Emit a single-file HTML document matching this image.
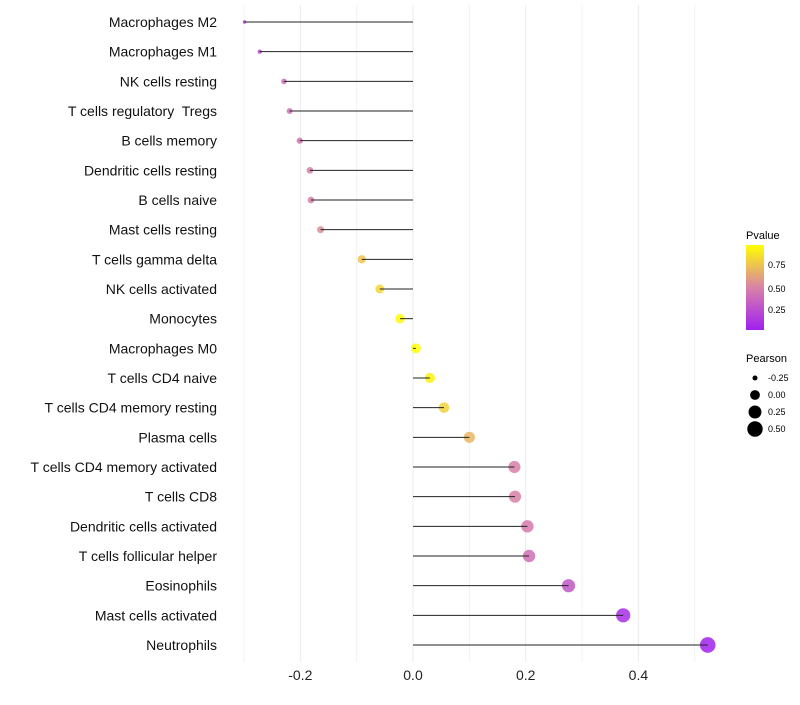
<!DOCTYPE html>
<html><head><meta charset="utf-8"><style>
body{margin:0;background:#fff;font-family:"Liberation Sans",sans-serif;}
text{white-space:pre;}
</style></head><body>
<svg id="chart" width="800" height="700" xmlns="http://www.w3.org/2000/svg">
<g id="grid"></g><g id="dots"></g><g id="marks"></g><g id="labels"></g>
<g id="legend">
<defs><linearGradient id="pg" x1="0" y1="1" x2="0" y2="0">
<stop offset="0" stop-color="#a020f0"/><stop offset="0.5" stop-color="#d882a8"/><stop offset="1" stop-color="#ffff00"/></linearGradient></defs>
<text x="746" y="239" font-size="11">Pvalue</text>
<rect x="746" y="245" width="18" height="85" fill="url(#pg)"/>
<text x="768" y="268" font-size="9">0.75</text>
<text x="768" y="292" font-size="9">0.50</text>
<text x="768" y="313" font-size="9">0.25</text>
<text x="746" y="362" font-size="11">Pearson</text>
</g>
</svg>
<script>
const categories=["Macrophages M2","Macrophages M1","NK cells resting","T cells regulatory  Tregs","B cells memory","Dendritic cells resting","B cells naive","Mast cells resting","T cells gamma delta","NK cells activated","Monocytes","Macrophages M0","T cells CD4 naive","T cells CD4 memory resting","Plasma cells","T cells CD4 memory activated","T cells CD8","Dendritic cells activated","T cells follicular helper","Eosinophils","Mast cells activated","Neutrophils"];
const pearson=[-0.299,-0.272,-0.229,-0.219,-0.201,-0.183,-0.181,-0.164,-0.091,-0.059,-0.023,0.005,0.030,0.055,0.100,0.180,0.181,0.203,0.206,0.276,0.373,0.523];
const pvalue=[0.15,0.25,0.4,0.42,0.45,0.5,0.5,0.55,0.75,0.82,0.95,0.97,0.92,0.8,0.7,0.5,0.5,0.47,0.42,0.3,0.1,0.04];
const xTicks=[-0.2,0,0.2,0.4];
const xTickLabels=["-0.2","0.0","0.2","0.4"];
const xMinor=[-0.3,-0.1,0.1,0.3,0.5];
const sizeLegend=[-0.25,0,0.25,0.5];
const sizeLegendLabels=["-0.25","0.00","0.25","0.50"];

const NS="http://www.w3.org/2000/svg";
const x=v=>413+v*563.5;
const y=i=>22+i*(623/(categories.length-1));
const r=v=>Math.max(1.5,7.8*Math.sqrt(Math.max(0,(v+0.34)/0.86)));
function lerp(a,b,t){return a.map((c,i)=>Math.round(c+(b[i]-c)*t));}
function col(p){const lo=[160,32,240],mid=[216,128,168],hi=[255,255,0];
 let t=Math.min(1,Math.max(0,(p-0.03)/0.94));
 const c=t<0.5?lerp(lo,mid,t/0.5):lerp(mid,hi,(t-0.5)/0.5);return `rgb(${c})`;}
function mk(tag,attrs,parent){const e=document.createElementNS(NS,tag);for(const k in attrs)e.setAttribute(k,attrs[k]);parent.appendChild(e);return e;}
const grid=document.getElementById('grid'),dots=document.getElementById('dots'),marks=document.getElementById('marks'),labels=document.getElementById('labels'),legend=document.getElementById('legend');
xMinor.forEach(v=>{const l=mk('line',{x1:x(v),x2:x(v),y1:5,y2:662,stroke:'#f2f2f2','stroke-width':1},grid);

});
xTicks.forEach((v,i)=>{const l=mk('line',{x1:x(v),x2:x(v),y1:5,y2:662,stroke:'#ebebeb','stroke-width':1},grid);


const t=mk('text',{x:x(v),y:680,'font-size':14,'text-anchor':'middle',fill:'#222'},labels);t.textContent=xTickLabels[i];

});
categories.forEach((c,i)=>{
 const t=mk('text',{x:217,y:y(i)+5,'font-size':14,'text-anchor':'end',fill:'#111'},labels);t.textContent=c;
 
 
 const d=mk('circle',{cx:x(pearson[i]),cy:y(i),r:r(pearson[i]),fill:col(pvalue[i]),'fill-opacity':0.85},dots);
 
 
 const s=mk('line',{x1:x(0),x2:x(pearson[i]),y1:y(i),y2:y(i),stroke:'#222','stroke-width':1},marks);
 
 
});
sizeLegend.forEach((v,i)=>{const cy=378+i*17;
 const d=mk('circle',{cx:755,cy:cy,r:r(v),fill:'#000'},legend);
 
 
 const t=mk('text',{x:768,y:cy+3,'font-size':9},legend);t.textContent=sizeLegendLabels[i];
 
 });
</script>
</body></html>
